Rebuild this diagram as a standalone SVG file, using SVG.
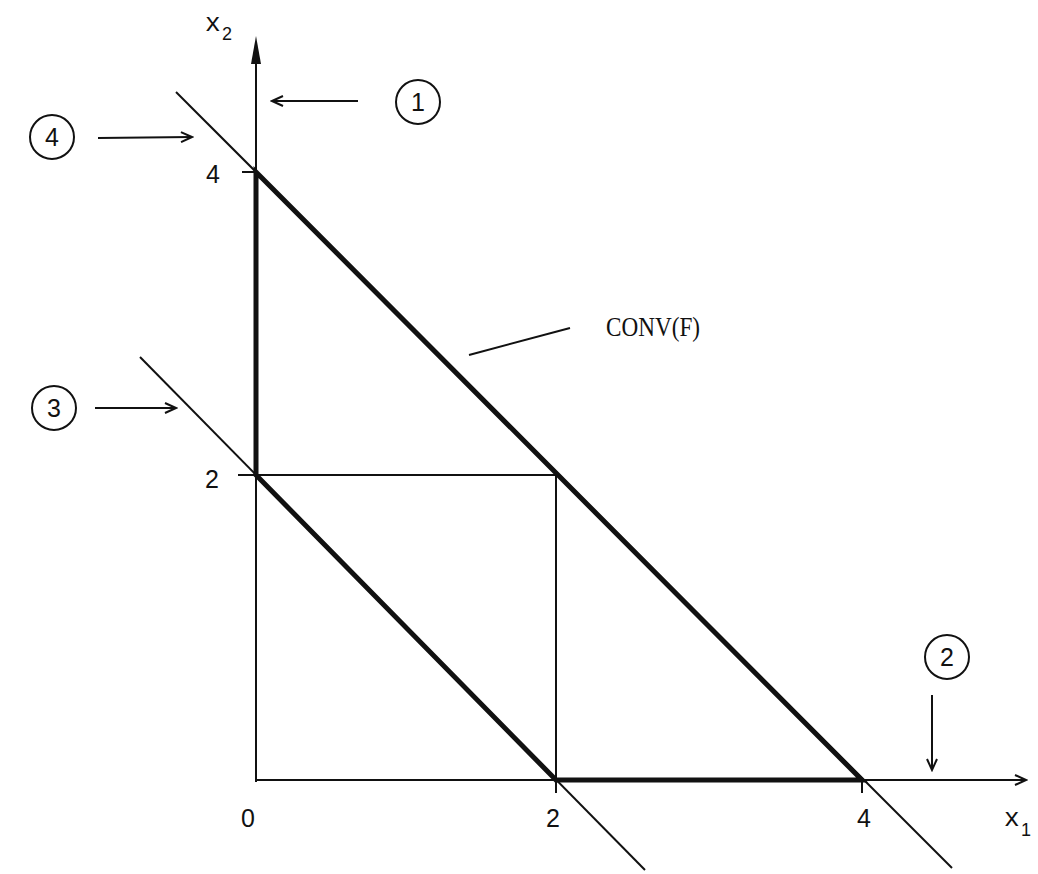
<svg xmlns="http://www.w3.org/2000/svg" width="1038" height="874" viewBox="0 0 1038 874">
<style>
.thin{stroke:#111;stroke-width:2;fill:none}
.thick{stroke:#111;stroke-width:5;fill:none;stroke-linecap:round}
.circ{stroke:#111;stroke-width:2;fill:#fff}
.t{font-family:"Liberation Mono","DejaVu Sans Mono",monospace;font-size:26px;fill:#111}
.c{font-family:"Liberation Serif","DejaVu Serif",serif;font-size:27px;fill:#111}
.n{font-family:"Liberation Sans","DejaVu Sans",sans-serif;font-size:25px;fill:#111}
.s{font-family:"Liberation Sans","DejaVu Sans",sans-serif;font-size:18px;fill:#111}
</style>
<defs>
<marker id="open" markerWidth="14" markerHeight="12" refX="12" refY="6" orient="auto" markerUnits="userSpaceOnUse">
<path d="M1,1 L12,6 L1,11" fill="none" stroke="#111" stroke-width="2"/>
</marker>
</defs>
<rect width="1038" height="874" fill="#fff"/>
<g id="axes">
<line class="thin" x1="256" y1="782" x2="256" y2="64"/>
<path d="M256,36 L261,64 L251,64 Z" fill="#111"/>
<line class="thin" x1="256" y1="780" x2="1026" y2="780" marker-end="url(#open)"/>
<line class="thin" x1="242" y1="172" x2="256" y2="172"/>
<line class="thin" x1="238" y1="475" x2="256" y2="475"/>
<line class="thin" x1="556" y1="780" x2="556" y2="793"/>
<line class="thin" x1="862" y1="780" x2="862" y2="793"/>
</g>
<g id="lines">
<line class="thin" x1="176" y1="92" x2="952" y2="868"/>
<line class="thin" x1="140" y1="357" x2="645" y2="870"/>
<line class="thin" x1="256" y1="475" x2="556" y2="475"/>
<line class="thin" x1="556" y1="475" x2="556" y2="780"/>
</g>
<g id="hull">
<path class="thick" d="M256,475 L256,172 L862,780 L556,780 L256,475 Z"/>
</g>
<g id="connectors">
<line class="thin" x1="358" y1="101" x2="272" y2="101" marker-end="url(#open)"/>
<line class="thin" x1="98" y1="138" x2="192" y2="137" marker-end="url(#open)"/>
<line class="thin" x1="95" y1="408" x2="176" y2="408" marker-end="url(#open)"/>
<line class="thin" x1="932" y1="695" x2="932" y2="770" marker-end="url(#open)"/>
<line class="thin" x1="469" y1="355" x2="570" y2="328"/>
</g>
<g id="c1"><circle class="circ" cx="418" cy="102" r="22"/><text class="n" x="418" y="111" text-anchor="middle">1</text></g>
<g id="c4"><circle class="circ" cx="52" cy="137" r="22"/><text class="n" x="52" y="146" text-anchor="middle">4</text></g>
<g id="c3"><circle class="circ" cx="54" cy="408" r="22"/><text class="n" x="54" y="417" text-anchor="middle">3</text></g>
<g id="c2"><circle class="circ" cx="947" cy="657" r="22"/><text class="n" x="947" y="666" text-anchor="middle">2</text></g>
<g id="labels">
<text class="t" x="205" y="31">x</text><text class="s" x="222" y="40">2</text>
<text class="n" x="206" y="183">4</text>
<text class="n" x="205" y="488">2</text>
<text class="n" x="241" y="827">0</text>
<text class="n" x="546" y="827">2</text>
<text class="n" x="857" y="827">4</text>
<text class="t" x="1004" y="826">x</text><text class="s" x="1021" y="836">1</text>
<text class="c" x="606" y="336" textLength="94" lengthAdjust="spacingAndGlyphs">CONV(F)</text>
</g>
</svg>
